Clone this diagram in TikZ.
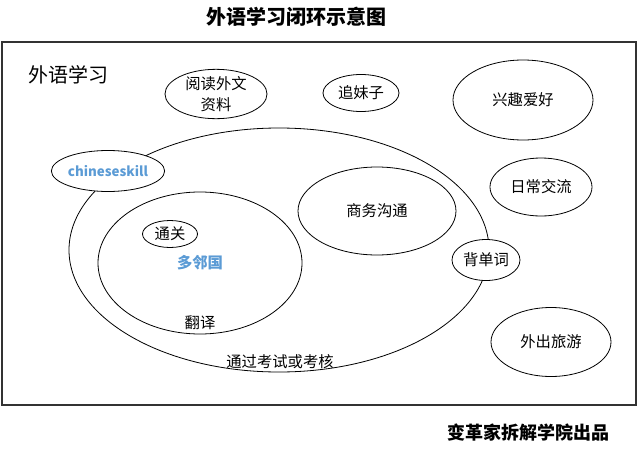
\documentclass[tikz,border=0pt]{standalone}
\usepackage{fontspec}
\setmainfont{Noto Sans CJK SC}
\usepackage{xcolor}
\usepackage{tikz}
\usetikzlibrary{shapes,shapes.geometric,backgrounds}
\pgfdeclarelayer{edgelayer}
\pgfdeclarelayer{nodelayer}
\pgfsetlayers{background,edgelayer,nodelayer,main}
\definecolor{skillblue}{RGB}{91,155,213}
\newcommand{\lblfont}{\fontsize{11.5}{15.5}\selectfont}
\tikzstyle{none}=[inner sep=0mm]
\tikzstyle{every picture}=[x=0.75pt,y=-0.75pt]
\tikzstyle{bubble}=[shape=ellipse,draw=black,fill=white,line width=0.6pt,inner sep=0pt,font=\lblfont,align=center]
\tikzstyle{ring}=[bubble,fill=none]
\tikzstyle{lbl}=[none,font=\lblfont]
\tikzstyle{bluelbl}=[none,text=skillblue,font=\lblfont\bfseries]
\tikzstyle{heading}=[none,font=\fontsize{15}{18}\selectfont\bfseries]
\tikzset{
	bubble/.append style={minimum width=60pt,minimum height=40pt}
}

\begin{document}
\begin{tikzpicture}
	\useasboundingbox (0,0) rectangle (640,450);
	\begin{pgfonlayer}{edgelayer}
		\draw [line width=0.8pt, draw=black!80] (2,42) rectangle (636,405);
		\node [style=ring, minimum width=315pt, minimum height=183pt] (exam) at (279,250) {};
		\node [style=ring, minimum width=153pt, minimum height=106.5pt, style=bluelbl] (duo) at (200,263) {多邻国};
		\node [style=ring, minimum width=118.5pt, minimum height=66pt] (biz) at (377,211) {商务沟通};
	\end{pgfonlayer}
	\begin{pgfonlayer}{nodelayer}
		\node [style=heading] (title) at (296,17) {外语学习闭环示意图};
		\node [style=none, font=\fontsize{15}{18}\selectfont] (lang) at (68,75) {外语学习};
		\node [style=bubble, minimum width=76.5pt, minimum height=36pt] (read) at (216,94) {阅读外文\\资料};
		\node [style=bubble, minimum width=57pt, minimum height=27.75pt] (girl) at (361,93) {追妹子};
		\node [style=bubble, minimum width=105pt, minimum height=60pt] (hobby) at (523,100) {兴趣爱好};
		\node [style=bubble, minimum width=76.5pt, minimum height=43.5pt] (daily) at (541,187) {日常交流};
		\node [style=bubble, minimum width=90pt, minimum height=51.75pt] (travel) at (551,342) {外出旅游};
		\node [style=bubble, minimum width=76.5pt, minimum height=30.75pt, text=skillblue, font=\fontsize{10}{12}\selectfont\bfseries] (skill) at (108,171) {chineseskill};
		\node [style=bubble, minimum width=41.25pt, minimum height=20.25pt] (pass) at (170,234) {通关};
		\node [style=bubble, minimum width=51pt, minimum height=30.75pt] (words) at (486,260) {背单词};
		\node [style=lbl] (trans) at (200,323) {翻译};
		\node [style=lbl] (examlbl) at (280,362) {通过考试或考核};
		\node [style=heading, font=\fontsize{13.5}{16}\selectfont\bfseries] (credit) at (528,433) {变革家拆解学院出品};
	\end{pgfonlayer}
\end{tikzpicture}
\end{document}
